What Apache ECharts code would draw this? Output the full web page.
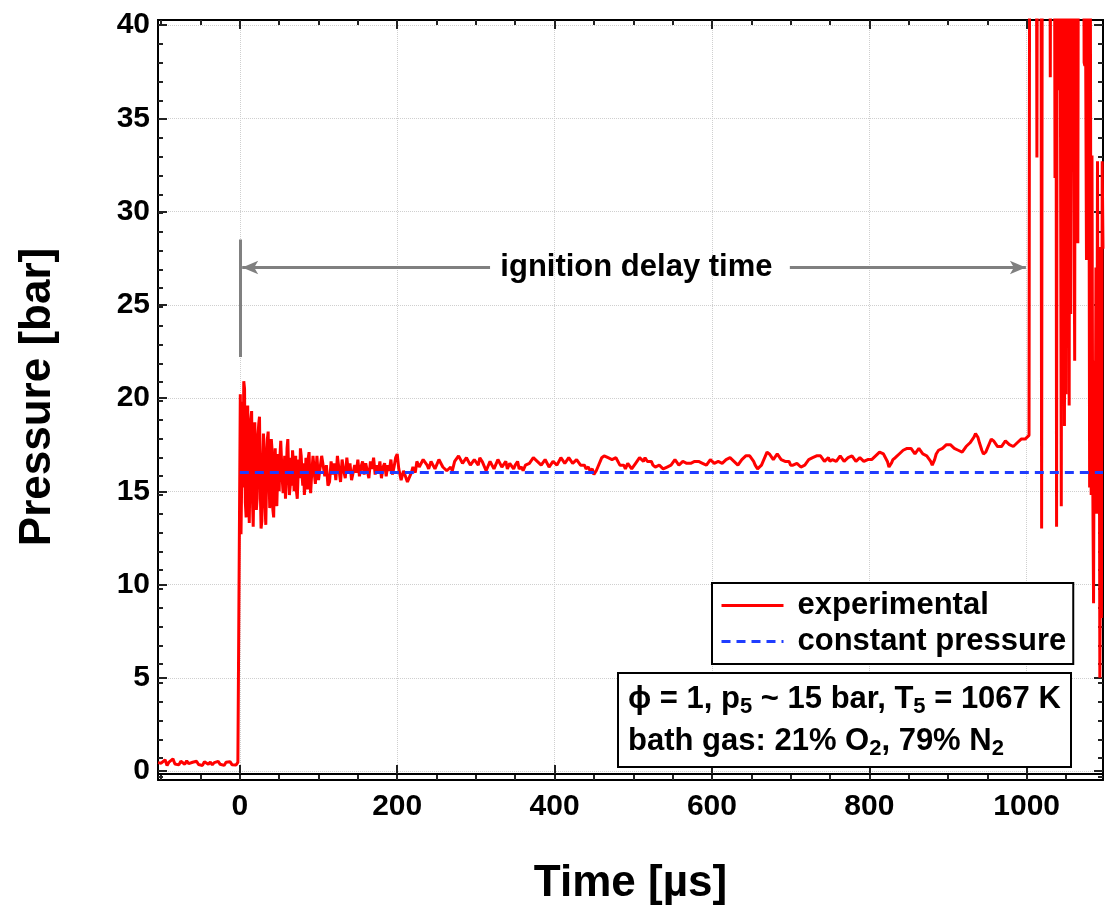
<!DOCTYPE html>
<html>
<head>
<meta charset="utf-8">
<script src="https://cdn.jsdelivr.net/npm/echarts@6/dist/echarts.min.js"></script>
<style>html,body{margin:0;padding:0;background:#fff}#c{width:1105px;height:911px}</style>
</head>
<body>
<div id="c"></div>
<script>
// ---- tick values ----
const xMajorTicks = [0, 200, 400, 600, 800, 1000];
const xMinorTicks = [-100, -50, 0, 50, 100, 150, 200, 250, 300, 350, 400, 450, 500, 550, 600, 650, 700, 750, 800, 850, 900, 950, 1000, 1050];
const yMajorTicks = [0, 5, 10, 15, 20, 25, 30, 35, 40];
const yMinorTicks = [0,1,2,3,4,5,6,7,8,9,10,11,12,13,14,15,16,17,18,19,20,21,22,23,24,25,26,27,28,29,30,31,32,33,34,35,36,37,38,39,40];

// ---- experimental pressure trace [time µs, pressure bar] ----
const preShock = [[-104,0.45],[-100,0.42],[-97.5,0.35],[-95,0.6],[-92.5,0.3],[-90,0.48],[-87.5,0.4],[-85,0.65],[-82.5,0.38],[-80,0.45],[-77.5,0.33],[-75,0.52],[-72.5,0.42],[-70,0.36],[-67.5,0.55],[-65,0.4],[-62.5,0.3],[-60,0.47],[-57.5,0.38],[-55,0.52],[-52.5,0.35],[-50,0.44],[-47.5,0.3],[-45,0.5],[-42.5,0.4],[-40,0.36],[-37.5,0.48],[-35,0.33],[-32.5,0.45],[-30,0.38],[-27.5,0.52],[-25,0.36],[-22.5,0.43],[-20,0.3],[-17.5,0.47],[-15,0.39],[-12.5,0.5],[-10,0.34],[-7.5,0.44],[-5,0.32],[-2.5,0.46],[-0.2,0.42]];
const earlyOsc = [[0.6,20.2],[1,17.5],[1.5,12.7],[2.5,16.0],[3,19.8],[4,15.2],[5,20.9],[6,20.5],[7,14.4],[8,13.6],[9,17.8],[10,19.6],[11,15.0],[12,13.3],[13,16.4],[14,18.9],[15,19.3],[16,14.6],[17,13.1],[18,15.9],[19,18.7],[20,17.2],[21,14.0],[22,14.6],[23,17.9],[24,18.6],[25,19.0],[26,15.1],[27,13.0],[28,13.4],[29,16.5],[30,18.1],[31,17.3],[32,14.2],[33,13.2],[34,15.6],[35,17.8],[36,18.2],[37,16.0],[38,14.1],[39,14.8],[40,17.8],[41,17.2],[42,14.0],[43,13.6],[44,15.9],[45,17.3],[46,15.0],[47,14.2],[48,15.8],[49,17.0],[50,15.0],[51,16.9],[52,17.7],[53,17.8],[54,15.6],[55,14.9],[56,15.8],[57,16.9],[58,14.6],[59,15.7],[60,17.3],[61,17.8],[62,16.0],[63,14.8],[64,15.3],[65,16.8],[66,15.3],[67,17.2],[68,16.5],[69,15.0],[70,15.8],[71,16.9],[72,15.0],[73,14.6],[74,15.8],[75,16.7],[76,15.7],[77,17.3],[78,16.9],[79,15.9],[80,15.3],[81,16.5],[82,14.8],[83,15.4],[84,16.8],[85,15.9],[86,15.1],[87,16.8],[88,17.1],[89,15.7],[90,14.9],[91,15.7],[92,16.3],[93,16.9],[94,16.4],[95,15.8],[96,15.4],[97,16.2],[98,16.9],[99,16.2],[100,15.6],[102,15.7],[104,16.9],[106,16.9],[108,15.8],[110,16.4],[112,15.3],[114,15.5],[116,16.6],[118,15.9],[120,16.5],[122,15.6],[124,16.9],[126,16.2],[128,15.5],[130,16.7],[132,16.1],[134,15.7],[136,16.8],[138,16.0],[140,16.5],[142,15.6],[144,15.6],[146,16.4],[148,16.0],[150,16.7],[152,15.8],[154,16.3],[156,16.6],[158,15.9],[160,16.5],[162,16.1],[164,15.7],[166,16.6],[168,16.2],[170,16.8],[172,15.9],[174,16.4],[176,16.0],[178,16.6],[180,15.7],[182,16.3],[184,16.5],[186,15.8],[188,16.4],[190,16.1],[192,16.7],[194,15.9],[196,16.3],[198,16.8],[200,17.0],[202,16.2]];
const plateau = [[205,15.6],[208,16.1],[210,16.0],[213,15.5],[215,15.4],[218,16.0],[220,16.3],[223,16.0],[225,16.6],[228,16.3],[230,16.4],[233,16.7],[235,16.8],[238,16.4],[240,16.2],[243,16.6],[245,16.5],[248,16.2],[250,16.3],[253,16.7],[255,16.6],[258,16.3],[260,16.4],[263,16.1],[265,16.0],[268,16.3],[270,16.1],[273,16.6],[275,16.5],[278,16.9],[280,16.8],[283,16.5],[285,16.4],[288,16.8],[290,16.7],[293,16.4],[295,16.3],[298,16.7],[300,16.6],[303,16.4],[305,16.8],[308,16.6],[310,16.4],[313,16.1],[315,16.2],[318,16.6],[320,16.5],[323,16.2],[325,16.3],[328,16.7],[330,16.6],[333,16.3],[335,16.4],[338,16.6],[340,16.2],[343,16.5],[345,16.5],[348,16.2],[350,16.4],[353,16.6],[355,16.2],[358,16.3],[360,16.1],[363,16.4],[365,16.3],[368,16.5],[370,16.6],[373,16.8],[375,16.9],[378,16.6],[380,16.7],[383,16.4],[385,16.5],[388,16.7],[390,16.6],[393,16.3],[395,16.3],[398,16.6],[400,16.7],[403,16.4],[405,16.5],[408,16.8],[410,16.8],[413,16.5],[415,16.6],[418,16.8],[420,16.7],[423,16.5],[425,16.4],[428,16.7],[430,16.6],[433,16.4],[435,16.3],[438,16.4],[440,16.2],[443,16.3],[445,16.1],[448,16.2],[450,15.9],[453,16.1],[455,16.3],[458,16.6],[460,16.8],[463,16.9],[465,17.0],[468,16.8],[470,16.9],[473,16.7],[475,16.6],[478,16.8],[480,16.7],[483,16.4],[485,16.3],[488,16.4],[490,16.2],[493,16.5],[495,16.4],[498,16.2],[500,16.3],[503,16.5],[505,16.6],[508,16.8],[510,16.7],[513,16.6],[515,16.8],[518,16.6],[520,16.5],[523,16.6],[525,16.4],[528,16.3],[530,16.2],[533,16.4],[535,16.3],[538,16.2],[540,16.1],[543,16.3],[545,16.2],[548,16.4],[550,16.5],[553,16.7],[555,16.6],[558,16.4],[560,16.5],[563,16.6],[565,16.7],[568,16.5],[570,16.6],[573,16.5],[575,16.4],[578,16.6],[580,16.5],[583,16.6],[585,16.7],[588,16.5],[590,16.6],[593,16.4],[595,16.5],[598,16.7],[600,16.6],[603,16.5],[605,16.4],[608,16.6],[610,16.7],[613,16.5],[615,16.5],[618,16.7],[620,16.6],[623,16.8],[625,16.8],[628,16.6],[630,16.6],[633,16.4],[635,16.5],[638,16.7],[640,16.6],[643,16.9],[645,17.0],[648,16.9],[650,16.8],[653,16.6],[655,16.4],[658,16.2],[660,16.2],[663,16.4],[665,16.6],[668,16.9],[670,17.1],[673,17.0],[675,16.9],[678,16.7],[680,16.8],[683,17.0],[685,16.9],[688,16.7],[690,16.6],[693,16.6],[695,16.5],[698,16.6],[700,16.4],[703,16.4],[705,16.3],[708,16.5],[710,16.5],[713,16.3],[715,16.2],[718,16.4],[720,16.5],[723,16.7],[725,16.6],[728,16.8],[730,16.7],[733,16.9],[735,17.0],[738,16.9],[740,16.8],[743,16.6],[745,16.7],[748,16.8],[750,16.6],[753,16.7],[755,16.8],[758,16.6],[760,16.7],[763,16.9],[765,16.8],[768,16.6],[770,16.6],[773,16.8],[775,16.7],[778,16.9],[780,16.8],[783,16.6],[785,16.6],[788,16.8],[790,16.7],[793,16.6],[795,16.5],[798,16.7],[800,16.6],[803,16.7],[805,16.8],[808,16.9],[810,16.9],[813,17.1],[815,17.2],[818,17.0],[820,16.9],[823,16.6],[825,16.3],[828,16.5],[830,16.7],[833,16.8],[835,16.9],[838,17.0],[840,17.1],[843,17.2],[845,17.3],[848,17.3],[850,17.4],[853,17.3],[855,17.2],[858,17.0],[860,17.1],[863,17.3],[865,17.2],[868,17.0],[870,16.9],[873,16.9],[875,16.8],[878,16.6],[880,16.4],[883,16.7],[885,17.0],[888,17.2],[890,17.3],[893,17.3],[895,17.4],[898,17.5],[900,17.6],[903,17.5],[905,17.5],[908,17.3],[910,17.4],[913,17.2],[915,17.3],[918,17.1],[920,17.2],[923,17.4],[925,17.5],[928,17.6],[930,17.7],[933,17.9],[935,18.1],[938,17.9],[940,17.6],[943,17.2],[945,17.0],[948,17.1],[950,17.3],[953,17.6],[955,17.8],[958,17.7],[960,17.6],[963,17.4],[965,17.3],[968,17.4],[970,17.5],[973,17.7],[975,17.7],[978,17.5],[980,17.6],[983,17.4],[985,17.5],[988,17.6],[990,17.6],[993,17.8],[995,17.7],[998,17.8],[1000,17.9],[1003,18.0]];
const ignition = [[1004,55],[1012,55],[1013,32.9],[1014,55],[1018,55],[1019,13.0],[1020,55],[1029,55],[1030,37.2],[1031,55],[1035,55],[1036,31.8],[1037,55],[1038,13.1],[1039,55],[1040,55],[1041,36.5],[1042,55],[1044,14.2],[1045,55],[1046,21.0],[1047,55],[1048,18.5],[1049,46],[1050,20.2],[1051,55],[1052,30.8],[1053,55],[1054,19.6],[1055,48],[1056,24.5],[1057,55],[1059,55],[1060,33],[1061,22],[1062,55],[1064,55],[1065,28.3],[1066,55],[1072,55],[1073,38.0],[1074,37.8],[1075,38.2],[1076,27.4],[1077,55],[1079,38.6],[1080,15.2],[1081,40.5],[1082,14.8],[1083,33],[1084,15.5],[1085,9.0],[1086,22],[1087,14.2],[1088,27],[1089,13.8],[1090,32.7],[1091,15],[1092,28.1],[1093,5.0],[1094,14],[1095,8.2],[1096,32.7],[1097,28]];

// ---- constant pressure model ----
const constPressure = [[0,16.0],[1097,16.0]];

// ---- annotation (ignition delay time) ----
const markerTime = 0;
const markerSpan = [22.2, 28.5];
const arrowLevel = 27.0;
const leftArrow = [318, 3];
const rightArrow = [699, 999];
const annotationText = 'ignition delay time';
const annotationPos = [504, 27.0];

const experimental = preShock.concat(earlyOsc, plateau, ignition);

const FONT = '"Liberation Sans", Arial, Helvetica, sans-serif';
const X_MIN = -104, X_MAX = 1097, Y_MIN = -0.16, Y_MAX = 40.27;
const gridRect = {left: 158, right: 2, top: 20, bottom: 131};

function xAx(grid, pos, ticks, len, extra) {
  return Object.assign({
    type: 'value', gridIndex: grid, position: pos, min: X_MIN, max: X_MAX,
    axisLine: {show: true, onZero: false, lineStyle: {color: '#000', width: 2}},
    axisTick: {show: true, inside: true, length: len, customValues: ticks, lineStyle: {color: '#222', width: 2}},
    axisLabel: {show: false},
    splitLine: {show: false}
  }, extra || {});
}
function yAx(grid, pos, ticks, len, extra) {
  return Object.assign({
    type: 'value', gridIndex: grid, position: pos, min: Y_MIN, max: Y_MAX,
    axisLine: {show: true, onZero: false, lineStyle: {color: '#000', width: 2}},
    axisTick: {show: true, inside: true, length: len, customValues: ticks, lineStyle: {color: '#222', width: 2}},
    axisLabel: {show: false},
    splitLine: {show: false}
  }, extra || {});
}

const labelStyle = {fontFamily: FONT, fontWeight: 'bold', fontSize: 30, color: '#000'};
const splitStyle = {show: true, lineStyle: {color: '#cfcfcf', width: 1, type: 'dotted'}};

const option = {
  animation: false,
  backgroundColor: '#fff',
  grid: [Object.assign({}, gridRect), Object.assign({}, gridRect)],
  xAxis: [
    xAx(0, 'bottom', xMinorTicks, 5),
    xAx(0, 'top', xMinorTicks, 5),
    xAx(1, 'bottom', xMajorTicks, 9, {
      axisLabel: Object.assign({show: true, margin: 18, customValues: xMajorTicks, formatter: function (v) { return String(v); }}, labelStyle),
      splitLine: splitStyle,
      name: 'Time [µs]', nameLocation: 'middle', nameGap: 88,
      nameTextStyle: {fontFamily: FONT, fontWeight: 'bold', fontSize: 44, color: '#000'}
    }),
    xAx(1, 'top', xMajorTicks, 9)
  ],
  yAxis: [
    yAx(0, 'left', yMinorTicks, 5),
    yAx(0, 'right', yMinorTicks, 5),
    yAx(1, 'left', yMajorTicks, 9, {
      axisLabel: Object.assign({show: true, margin: 8, customValues: yMajorTicks}, labelStyle),
      splitLine: splitStyle,
      name: 'Pressure [bar]', nameLocation: 'middle', nameGap: 98,
      nameTextStyle: {fontFamily: FONT, fontWeight: 'bold', fontSize: 44, color: '#000'}
    }),
    yAx(1, 'right', yMajorTicks, 9)
  ],
  legend: {
    orient: 'vertical', left: 712, top: 583,
    itemWidth: 62, itemHeight: 14, itemGap: 5,
    padding: [7, 7, 7, 8],
    borderColor: '#000', borderWidth: 2, backgroundColor: '#fff',
    itemStyle: {color: 'transparent', borderWidth: 0, opacity: 0},
    lineStyle: {width: 3},
    textStyle: {fontFamily: FONT, fontWeight: 'bold', fontSize: 31, color: '#000', padding: [0, 0, 0, 9]},
    data: ['experimental', 'constant pressure']
  },
  title: {
    left: 618, top: 673,
    padding: [5, 10, 5, 10],
    borderColor: '#000', borderWidth: 2, backgroundColor: '#fff',
    text: '{n|ϕ = 1, p}{s|5}{n| ~ 15 bar, T}{s|5}{n| = 1067 K}\n{n|bath gas: 21% O}{s|2}{n|, 79% N}{s|2}',
    textStyle: {
      fontFamily: FONT, fontWeight: 'bold', fontSize: 31, color: '#000', lineHeight: 42,
      rich: {
        n: {fontFamily: FONT, fontWeight: 'bold', fontSize: 31, color: '#000', lineHeight: 42},
        s: {fontFamily: FONT, fontWeight: 'bold', fontSize: 22, color: '#000', lineHeight: 42, padding: [16, 0, 0, 0]}
      }
    }
  },
  series: [
    {
      name: 'experimental', type: 'line', xAxisIndex: 2, yAxisIndex: 2,
      data: experimental, showSymbol: false, symbol: 'none', clip: true,
      lineStyle: {color: '#ff0000', width: 3}, itemStyle: {color: '#ff0000'},
      z: 3,
      markLine: {
        silent: true, animation: false, symbol: 'none', symbolSize: 14,
        label: {show: false},
        lineStyle: {color: '#808080', width: 3, type: 'solid'},
        data: [
          [{coord: [markerTime, markerSpan[0]], symbol: 'none'}, {coord: [markerTime, markerSpan[1]], symbol: 'none'}],
          [{coord: [leftArrow[0], arrowLevel], symbol: 'none'}, {coord: [leftArrow[1], arrowLevel], symbol: 'arrow', symbolSize: [10, 16]}],
          [{coord: [rightArrow[0], arrowLevel], symbol: 'none'}, {coord: [rightArrow[1], arrowLevel], symbol: 'arrow', symbolSize: [10, 16]}]
        ]
      },
      markPoint: {
        silent: true, symbol: 'circle', symbolSize: 0,
        label: {show: true, position: 'inside', formatter: annotationText, fontFamily: FONT, fontWeight: 'bold', fontSize: 31, color: '#000'},
        data: [{coord: annotationPos}]
      }
    },
    {
      name: 'constant pressure', type: 'line', xAxisIndex: 2, yAxisIndex: 2,
      data: constPressure, showSymbol: false, symbol: 'none',
      lineStyle: {color: '#1f3dff', width: 3, type: [9, 6]}, itemStyle: {color: '#1f3dff'},
      z: 4
    }
  ]
};

const chart = echarts.init(document.getElementById('c'), null, {renderer: 'canvas'});
chart.setOption(option);
</script>
</body>
</html>
